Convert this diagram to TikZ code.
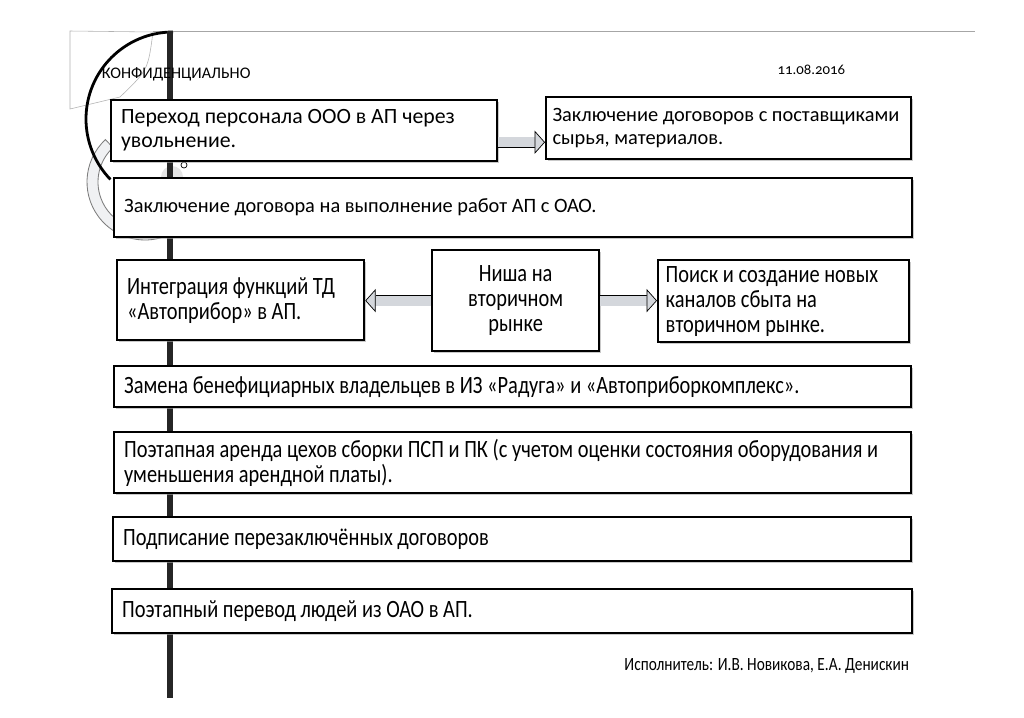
\documentclass[tikz,border=0pt]{standalone}
\usepackage{fontspec}
\usepackage{tikz}
\usetikzlibrary{shapes,arrows.meta,positioning,calc,shadows}
\setmainfont{Carlito}
\newfontfamily\condfont{Carlito}[FakeStretch=0.82]
\newfontfamily\datefont{Carlito}[Numbers=OldStyle]
\definecolor{arrowfill}{RGB}{212,215,220}
\definecolor{ringgray}{RGB}{125,125,125}
\definecolor{ringfill}{RGB}{240,241,243}

\begin{document}
\begin{tikzpicture}[x=0.25mm, y=-0.25mm,
    block/.style={rectangle, draw=black, line width=1.6pt, fill=white, anchor=north west, align=flush left, inner xsep=2.5mm, inner ysep=0pt, font=\fontsize{14.5}{16.5}\selectfont, drop shadow={shadow xshift=0.5mm, shadow yshift=-0.5mm, fill=gray!70, opacity=0.6}},
    condblock/.style={block, font=\condfont\fontsize{17.7}{17.8}\selectfont},
    fatarrow/.style={draw=arrowfill, line width=2.5mm, -{Triangle[length=2.6mm, width=5.8mm, color=black, fill=arrowfill, line width=0.5pt]}, preaction={draw=black, line width=2.85mm, -, shorten >=2.6mm, shorten <=-0.5pt}},
    spine/.style={line width=1.5mm, draw=black!85}]

    \fill[white] (0,0) rectangle (1024,717);
    \useasboundingbox (0,0) rectangle (1024,717);

    % page head
    \draw[gray!70, line width=0.4pt] (153,31) -- (975,31);
    \draw[gray!60, line width=0.4pt] (153,32) -- (70,31) -- (70,109) -- (120,97);
    \draw[gray!60, line width=0.4pt] (153,32) .. controls (148,70) .. (120,97);
    \filldraw[fill=ringfill, draw=ringgray, line width=0.6pt, even odd rule]
        (145,182) ++(227:58) arc[start angle=227, end angle=70, radius=58]
        -- ++(250:11) arc[start angle=70, end angle=227, radius=47] -- cycle;
    \draw[black, line width=0.7mm] (173,119) ++(270:87) arc[start angle=270, end angle=136, radius=87];
    \fill[gray!20] (172,177) circle[radius=11];

    \coordinate (spinetop) at (170,31);
    \coordinate (spinebot) at (170,698);
    \draw[spine] (spinetop) -- (spinebot);
    \draw[black, line width=0.5pt] (184,165) circle[radius=3];

    \node[font=\fontsize{11.5}{13}\selectfont, anchor=west] (conf) at (97,74) {КОНФИДЕНЦИАЛЬНО};
    \node[font=\datefont\fontsize{10.5}{13}\selectfont, anchor=east] (date) at (850,70) {11.08.2016};

    % steps
    \node[block, font=\fontsize{15.5}{17}\selectfont, text width=91.5mm, minimum height=15.25mm] (transfer) at (110,99) {Переход персонала ООО в АП через\\увольнение.};
    \node[block, inner xsep=1.6mm, text width=88mm, minimum height=15.5mm] (suppliers) at (545,96) {Заключение договоров с поставщиками\\сырья, материалов.};
    \node[block, text width=194.5mm, minimum height=14.75mm] (contract) at (113,177) {Заключение договора на выполнение работ АП с ОАО.};
    \node[condblock, text width=56.75mm, minimum height=20mm] (integration) at (116,259) {Интеграция функций ТД\\«Автоприбор» в АП.};
    \node[condblock, text width=36.75mm, minimum height=25.25mm, align=flush center] (niche) at (431,249) {Ниша на\\вторичном\\рынке};
    \node[condblock, inner xsep=1.9mm, text width=59mm, minimum height=20.5mm] (channels) at (657,259) {Поиск и создание новых\\каналов сбыта на\\вторичном рынке.};
    \node[condblock, text width=194.25mm, minimum height=10.25mm] (owners) at (113,365) {Замена бенефициарных владельцев в ИЗ «Радуга» и «Автоприборкомплекс».};
    \node[condblock, text width=194.25mm, minimum height=15.25mm] (lease) at (113,431) {Поэтапная аренда цехов сборки ПСП и ПК (с учетом оценки состояния оборудования и\\уменьшения арендной платы).};
    \node[condblock, text width=194.5mm, minimum height=11mm] (signing) at (112,516) {Подписание перезаключённых договоров};
    \node[condblock, text width=195mm, minimum height=11mm] (people) at (111,588) {Поэтапный перевод людей из ОАО в АП.};

    \draw[fatarrow] ([yshift=-2.9mm]transfer.east) -- ([yshift=-2.9mm]transfer.east -| suppliers.west);
    \draw[fatarrow] (niche.west) -- (niche.west -| integration.east);
    \draw[fatarrow] (niche.east) -- (niche.east -| channels.west);

    \node[font=\condfont\fontsize{13.3}{15}\selectfont, anchor=east] (author) at (914,666) {Исполнитель: И.В. Новикова, Е.А. Денискин};
\end{tikzpicture}
\end{document}
